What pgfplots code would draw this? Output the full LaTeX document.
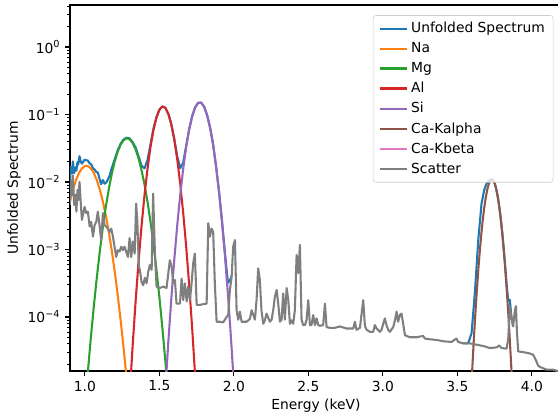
\documentclass[border=0pt]{standalone}
\usepackage{fontspec}
\setmainfont{DejaVu Sans}
\usepackage{pgfplots}
\usepackage{pgfplotstable}
\pgfplotsset{compat=1.18}

\definecolor{c0}{HTML}{1F77B4}
\definecolor{c1}{HTML}{FF7F0E}
\definecolor{c2}{HTML}{2CA02C}
\definecolor{c3}{HTML}{D62728}
\definecolor{c4}{HTML}{9467BD}
\definecolor{c5}{HTML}{8C564B}
\definecolor{c6}{HTML}{E377C2}
\definecolor{c7}{HTML}{7F7F7F}

% unfolded spectrum, peak region
\pgfplotstableread{
x y
0.899 9.65e-3
0.906 1.66e-2
0.915 1.35e-2
0.919 2.02e-2
0.928 1.35e-2
0.936 1.65e-2
0.943 1.47e-2
0.950 1.97e-2
0.955 1.82e-2
0.964 2.41e-2
0.973 1.98e-2
0.980 1.87e-2
0.998 2.14e-2
1.009 2.09e-2
1.020 2.08e-2
1.032 1.88e-2
1.042 1.83e-2
1.054 1.60e-2
1.065 1.53e-2
1.076 1.41e-2
1.087 1.38e-2
1.099 1.10e-2
1.109 9.28e-3
1.121 1.07e-2
1.132 9.44e-3
1.143 9.82e-3
1.154 1.08e-2
1.166 1.25e-2
1.177 1.53e-2
1.188 1.80e-2
1.199 2.13e-2
1.22 2.93e-2
1.24 3.70e-2
1.26 4.28e-2
1.28 4.53e-2
1.30 4.44e-2
1.32 3.91e-2
1.34 3.27e-2
1.36 2.41e-2
1.38 1.75e-2
1.40 1.59e-2
1.42 2.12e-2
1.44 3.59e-2
1.46 6.19e-2
1.48 9.07e-2
1.50 1.183e-1
1.52 1.318e-1
1.54 1.256e-1
1.56 1.026e-1
1.58 7.18e-2
1.60 4.33e-2
1.62 2.39e-2
1.64 1.60e-2
1.66 1.95e-2
1.68 3.46e-2
1.70 6.08e-2
1.72 9.49e-2
1.74 1.281e-1
1.76 1.488e-1
1.78 1.502e-1
1.80 1.305e-1
1.82 9.84e-2
1.84 6.51e-2
1.86 3.74e-2
1.88 1.73e-2
1.90 7.27e-3
1.92 2.67e-3
1.94 8.95e-4
1.96 3.21e-4
1.973 3.5e-4
1.985 4.0e-4
}\tabUnfolded

% unfolded spectrum, Ca region
\pgfplotstableread{
x y
3.539 4.07e-5
3.572 4.07e-5
3.595 5.75e-5
3.617 2.24e-4
3.640 1.38e-3
3.662 4.79e-3
3.680 7.6e-3
3.696 9.55e-3
3.710 1.05e-2
3.720 1.08e-2
3.730 1.10e-2
3.740 1.07e-2
3.750 9.6e-3
3.760 8.0e-3
3.770 6.2e-3
3.780 4.5e-3
3.790 3.0e-3
3.800 1.87e-3
3.810 1.09e-3
3.820 5.95e-4
3.830 3.11e-4
3.841 1.74e-4
3.852 1.8e-4
3.863 9.77e-5
3.874 7.24e-5
}\tabUnfoldedCa

\pgfplotstableread{
x y
0.90 5.20e-3
0.92 7.74e-3
0.94 1.067e-2
0.96 1.355e-2
0.98 1.589e-2
1.00 1.72e-2
1.01 1.74e-2
1.02 1.72e-2
1.04 1.59e-2
1.06 1.355e-2
1.08 1.067e-2
1.10 7.74e-3
1.12 5.20e-3
1.14 3.22e-3
1.16 1.845e-3
1.18 9.75e-4
1.20 4.75e-4
1.22 2.14e-4
1.24 8.9e-5
1.26 3.42e-5
1.28 1.21e-5
1.30 3.96e-6
}\tabNa

\pgfplotstableread{
x y
1.00 4.40e-6
1.02 1.545e-5
1.04 4.95e-5
1.06 1.449e-4
1.08 3.86e-4
1.10 9.40e-4
1.12 2.08e-3
1.14 4.22e-3
1.16 7.78e-3
1.18 1.309e-2
1.20 2.01e-2
1.22 2.81e-2
1.24 3.59e-2
1.26 4.18e-2
1.28 4.44e-2
1.30 4.30e-2
1.32 3.79e-2
1.34 3.05e-2
1.36 2.24e-2
1.38 1.50e-2
1.40 9.18e-3
1.42 5.12e-3
1.44 2.60e-3
1.46 1.205e-3
1.48 5.09e-4
1.50 1.96e-4
1.52 6.90e-5
1.54 2.21e-5
1.56 6.47e-6
}\tabMg

\pgfplotstableread{
x y
1.30 6.68e-6
1.32 3.61e-5
1.34 1.667e-4
1.36 6.58e-4
1.38 2.21e-3
1.40 6.37e-3
1.42 1.563e-2
1.44 3.28e-2
1.46 5.87e-2
1.48 8.99e-2
1.50 1.178e-1
1.52 1.315e-1
1.54 1.253e-1
1.56 1.021e-1
1.58 7.11e-2
1.60 4.23e-2
1.62 2.14e-2
1.64 9.29e-3
1.66 3.44e-3
1.68 1.089e-3
1.70 2.94e-4
1.72 6.79e-5
1.74 1.337e-5
1.76 2.25e-6
}\tabAl

\pgfplotstableread{
x y
1.54 8.49e-6
1.56 4.31e-5
1.58 1.879e-4
1.60 7.10e-4
1.62 2.32e-3
1.64 6.52e-3
1.66 1.585e-2
1.68 3.33e-2
1.70 6.03e-2
1.72 9.44e-2
1.74 1.274e-1
1.76 1.486e-1
1.78 1.50e-1
1.80 1.303e-1
1.82 9.79e-2
1.84 6.35e-2
1.86 3.56e-2
1.88 1.718e-2
1.90 7.18e-3
1.92 2.59e-3
1.94 8.05e-4
1.96 2.16e-4
1.98 5.02e-5
2.00 1.005e-5
2.02 1.74e-6
}\tabSi

\pgfplotstableread{
x y
3.59 6.30e-6
3.60 1.75e-5
3.61 4.51e-5
3.62 1.076e-4
3.63 2.38e-4
3.64 4.90e-4
3.65 9.35e-4
3.66 1.652e-3
3.67 2.71e-3
3.68 4.13e-3
3.69 5.83e-3
3.70 7.64e-3
3.71 9.29e-3
3.72 1.047e-2
3.73 1.096e-2
3.74 1.064e-2
3.75 9.57e-3
3.76 8.00e-3
3.77 6.19e-3
3.78 4.46e-3
3.79 2.97e-3
3.80 1.837e-3
3.81 1.054e-3
3.82 5.61e-4
3.83 2.77e-4
3.84 1.27e-4
3.85 5.40e-5
3.86 2.13e-5
3.87 7.78e-6
}\tabCaKa

\pgfplotstableread{
x y
0.899 4.57e-3
0.906 1.07e-2
0.915 6.46e-3
0.919 1.26e-2
0.928 4.57e-3
0.936 6.46e-3
0.943 3.63e-3
0.950 7.59e-3
0.955 5.37e-3
0.964 1.0e-2
0.973 4.57e-3
0.980 2.75e-3
0.998 4.27e-3
1.009 3.47e-3
1.020 3.63e-3
1.032 2.19e-3
1.042 2.57e-3
1.054 1.55e-3
1.065 2.29e-3
1.076 2.57e-3
1.087 3.63e-3
1.099 2.19e-3
1.109 1.38e-3
1.121 3.47e-3
1.132 2.29e-3
1.143 2.19e-3
1.154 2.04e-3
1.166 1.82e-3
1.177 2.04e-3
1.188 1.55e-3
1.199 1.10e-3
1.210 7.76e-4
1.221 9.77e-4
1.233 9.33e-4
1.244 1.10e-3
1.255 9.77e-4
1.266 1.10e-3
1.277 9.33e-4
1.289 7.76e-4
1.300 1.48e-3
1.311 7.76e-4
1.322 1.32e-3
1.334 8.71e-4
1.344 4.79e-3
1.352 2.57e-3
1.362 5.62e-4
1.369 5.01e-4
1.380 3.31e-4
1.391 2.95e-4
1.403 3.80e-4
1.414 3.16e-4
1.425 4.68e-4
1.436 5.89e-4
1.448 5.01e-4
1.458 6.76e-3
1.470 8.71e-4
1.481 2.82e-4
1.503 2.69e-4
1.526 2.82e-4
1.548 2.69e-4
1.570 6.92e-4
1.582 5.62e-4
1.593 3.16e-4
1.604 3.55e-4
1.615 1.58e-4
1.638 1.58e-4
1.649 3.72e-4
1.660 1.78e-4
1.671 3.16e-4
1.683 1.70e-4
1.693 2.82e-4
1.705 1.78e-4
1.716 3.16e-4
1.727 6.31e-4
1.738 8.71e-4
1.750 1.51e-4
1.772 1.51e-4
1.794 1.55e-4
1.817 1.58e-4
1.828 2.45e-3
1.839 1.55e-3
1.850 2.04e-3
1.861 1.82e-3
1.872 3.16e-4
1.884 8.51e-5
1.906 8.51e-5
1.928 8.32e-5
1.951 1.0e-4
1.962 1.07e-4
1.973 2.51e-4
1.985 3.98e-4
1.995 1.10e-3
2.007 1.38e-3
2.018 1.26e-4
2.029 9.12e-5
2.040 1.20e-4
2.052 8.51e-5
2.062 8.51e-5
2.085 8.51e-5
2.107 9.33e-5
2.119 1.26e-4
2.130 1.07e-4
2.141 9.12e-5
2.152 1.78e-4
2.163 5.25e-4
2.174 3.55e-4
2.185 1.26e-4
2.197 7.94e-5
2.208 8.91e-5
2.219 1.12e-4
2.230 9.77e-5
2.242 8.51e-5
2.253 9.12e-5
2.264 1.26e-4
2.275 2.0e-4
2.287 2.51e-4
2.297 1.62e-4
2.309 8.51e-5
2.320 9.12e-5
2.331 2.24e-4
2.342 9.12e-5
2.354 2.69e-4
2.365 1.78e-4
2.376 7.94e-5
2.387 8.91e-5
2.398 7.94e-5
2.409 1.26e-4
2.421 8.32e-4
2.432 4.47e-4
2.443 1.17e-3
2.454 9.12e-5
2.465 7.59e-5
2.477 7.59e-5
2.488 9.12e-5
2.499 1.78e-4
2.510 7.59e-5
2.521 7.59e-5
2.532 1.07e-4
2.544 7.59e-5
2.555 9.55e-5
2.566 7.59e-5
2.577 7.41e-5
2.599 7.59e-5
2.611 1.58e-4
2.622 7.08e-5
2.644 6.92e-5
2.678 6.92e-5
2.711 7.24e-5
2.756 6.76e-5
2.801 6.76e-5
2.812 8.51e-5
2.823 6.46e-5
2.846 6.92e-5
2.868 1.78e-4
2.879 7.41e-5
2.891 6.46e-5
2.913 6.03e-5
2.935 6.03e-5
2.946 7.59e-5
2.958 6.76e-5
2.980 6.03e-5
2.991 6.46e-5
3.002 7.94e-5
3.013 9.55e-5
3.024 7.59e-5
3.036 6.46e-5
3.047 6.03e-5
3.069 7.08e-5
3.081 8.91e-5
3.092 1.20e-4
3.102 8.51e-5
3.114 1.07e-4
3.125 1.12e-4
3.136 7.94e-5
3.148 5.37e-5
3.181 5.01e-5
3.226 5.01e-5
3.270 5.25e-5
3.282 4.79e-5
3.315 4.68e-5
3.360 4.57e-5
3.405 4.37e-5
3.461 4.27e-5
3.472 4.47e-5
3.494 4.79e-5
3.505 4.27e-5
3.539 4.07e-5
3.584 4.07e-5
3.629 3.89e-5
3.673 3.72e-5
3.718 3.47e-5
3.765 3.55e-5
3.780 3.80e-5
3.796 3.47e-5
3.830 3.39e-5
3.841 4.68e-5
3.852 1.41e-4
3.863 9.77e-5
3.874 7.24e-5
3.886 1.26e-4
3.893 1.45e-4
3.899 6.46e-5
3.908 3.09e-5
3.942 3.02e-5
3.987 2.88e-5
4.009 2.75e-5
4.027 2.29e-5
4.042 1.91e-5
4.054 1.82e-5
4.099 1.66e-5
4.143 1.66e-5
4.174 1.58e-5
4.200 1.58e-5
}\tabScatter

\begin{document}
\begin{tikzpicture}
\useasboundingbox (0,0) rectangle (5.58in,4.19in);
\begin{axis}[
    at={(0.70in,0.48in)},
    anchor=south west,
    scale only axis,
    width=4.917in,
    height=3.66in,
    xmin=0.9, xmax=4.2,
    ymode=log,
    ymin=1.585e-5, ymax=4.19,
    xtick={1,1.5,2,2.5,3,3.5,4},
    xticklabels={1.0,1.5,2.0,2.5,3.0,3.5,4.0},
    ytick={1e-4,1e-3,1e-2,1e-1,1},
    yticklabels={10\textsuperscript{−4},10\textsuperscript{−3},10\textsuperscript{−2},10\textsuperscript{−1},10\textsuperscript{0}},
    minor ytick={2e-5,3e-5,4e-5,5e-5,6e-5,7e-5,8e-5,9e-5,
                 2e-4,3e-4,4e-4,5e-4,6e-4,7e-4,8e-4,9e-4,
                 2e-3,3e-3,4e-3,5e-3,6e-3,7e-3,8e-3,9e-3,
                 2e-2,3e-2,4e-2,5e-2,6e-2,7e-2,8e-2,9e-2,
                 0.2,0.3,0.4,0.5,0.6,0.7,0.8,0.9,2,3,4},
    tick align=outside,
    tick pos=left,
    major tick length=3.5pt,
    minor tick length=2pt,
    tick style={black, line width=0.8pt},
    minor tick style={line width=0.6pt},
    axis line style={line width=0.8pt},
    xlabel={Energy (keV)},
    ylabel={Unfolded Spectrum},
    xlabel style={at={(axis description cs:0.5,-0.094)}, anchor=center},
    ylabel style={at={(axis description cs:-0.114,0.5)}, anchor=center},
    no markers,
    every axis plot/.append style={line width=1.5pt, line join=round},
    legend cell align=left,
    legend image code/.code={\draw[#1] (0cm,0cm) -- (0.7cm,0cm);},
    legend style={at={(0.983,0.972)}, anchor=north east,
        draw=black!20, rounded corners=2pt, fill=white, fill opacity=0.8,
        text opacity=1, row sep=1.5pt, inner xsep=4pt, inner ysep=3pt},
]
\addplot[c0] table {\tabUnfolded};
\addlegendentry{Unfolded Spectrum}
\addplot[c0, forget plot] table {\tabUnfoldedCa};
\addplot[c1] table {\tabNa};
\addlegendentry{Na}
\addplot[c2] table {\tabMg};
\addlegendentry{Mg}
\addplot[c3] table {\tabAl};
\addlegendentry{Al}
\addplot[c4] table {\tabSi};
\addlegendentry{Si}
\addplot[c5] table {\tabCaKa};
\addlegendentry{Ca-Kalpha}
\addlegendimage{c6, line width=1.5pt}
\addlegendentry{Ca-Kbeta}
\addplot[c7] table {\tabScatter};
\addlegendentry{Scatter}
\end{axis}
\end{tikzpicture}
\end{document}
